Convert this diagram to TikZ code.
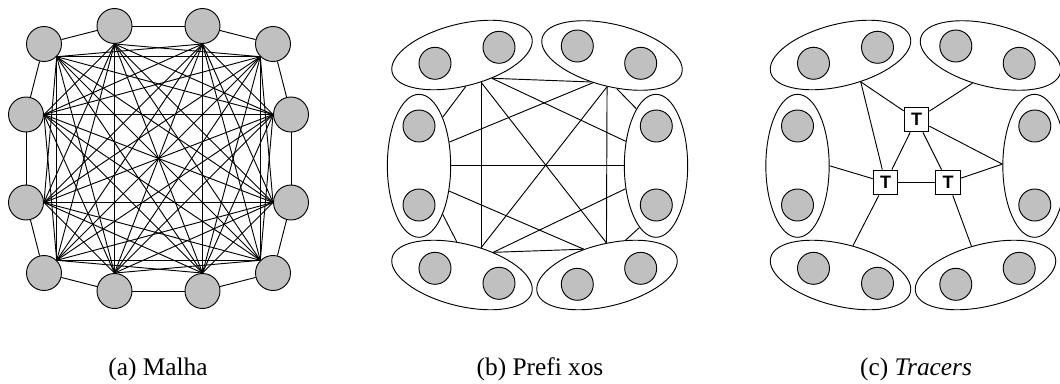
\documentclass[tikz,border=0pt]{standalone}
\usepackage{fontspec}
\setmainfont{Liberation Serif}
\setsansfont{Liberation Sans}
\usetikzlibrary{shapes.geometric}
\definecolor{dotgray}{RGB}{192,192,192}
\pgfdeclarelayer{bg}
\pgfsetlayers{bg,main}

% one set of six two-member clusters; #1 = name prefix
\newcommand{\drawclusters}[1]{%
  \node[grp, rotate=14]  (#1TL) at (462,55)    {};
  \node[grp, rotate=-14] (#1TR) at (612,55.5)  {};
  \node[vgrp]            (#1L)  at (419,165.8) {};
  \node[vgrp]            (#1R)  at (656,165.8) {};
  \node[grp, rotate=-14] (#1BL) at (462,275)   {};
  \node[grp, rotate=14]  (#1BR) at (607,275)   {};
  \node[dot] (#1TLa) at (435,63.3)  {};
  \node[dot] (#1TLb) at (499,47.3)  {};
  \node[dot] (#1TRa) at (577.3,46)  {};
  \node[dot] (#1TRb) at (640.7,63.3){};
  \node[dot] (#1La)  at (419,126)   {};
  \node[dot] (#1Lb)  at (419,205)   {};
  \node[dot] (#1Ra)  at (656.3,126) {};
  \node[dot] (#1Rb)  at (656.3,205) {};
  \node[dot] (#1BLa) at (435,268.3) {};
  \node[dot] (#1BLb) at (499,283.3) {};
  \node[dot] (#1BRa) at (577.3,284.3){};
  \node[dot] (#1BRb) at (640.7,268.3){};
}

\begin{document}
\begin{tikzpicture}[x=0.75pt,y=-0.75pt,
  edge/.style={line width=0.7pt},
  bigdot/.style={circle,draw,line width=0.7pt,fill=dotgray,inner sep=0pt,minimum size=26.25pt},
  dot/.style={circle,draw,line width=0.7pt,fill=dotgray,inner sep=0pt,minimum size=24pt},
  grp/.style={ellipse,draw,line width=0.7pt,fill=white,inner sep=0pt,minimum width=108pt,minimum height=46.5pt},
  vgrp/.style={ellipse,draw,line width=0.7pt,fill=white,inner sep=0pt,minimum width=47.5pt,minimum height=107.25pt},
  tracer/.style={rectangle,draw,line width=0.8pt,fill=white,inner sep=0pt,minimum size=18.5pt,
    font=\sffamily\bfseries\fontsize{13.5}{13.5}\selectfont},
  lbl/.style={anchor=base,font=\fontsize{19}{22}\selectfont}]

\useasboundingbox (0,0) rectangle (1060,383);
\clip (0,0) rectangle (1060,383);

% ---------- (a) full mesh of twelve nodes ----------
\foreach \n/\x/\y/\a in {
   1/44/44/south east, 2/114.5/26/south, 3/202.5/26/south, 4/273/44/south west,
   5/291/114.5/west, 6/291/202.5/west, 7/273/273/north west, 8/202.5/291/north,
   9/114.5/291/north, 10/44/273/north east, 11/26/202.5/east, 12/26/114.5/east}{
  \node[bigdot] (n\n) at (\x,\y) {};
  \coordinate (p\n) at (n\n.\a);
}
\begin{pgfonlayer}{bg}
\foreach \i in {1,...,11}{
  \pgfmathtruncatemacro{\s}{\i+1}
  \foreach \j in {\s,...,12}{
    \pgfmathtruncatemacro{\d}{\j-\i}
    \ifnum\d=1 \draw[edge] (n\i) -- (n\j);
    \else\ifnum\d=11 \draw[edge] (n\i) -- (n\j);
    \else \draw[edge] (p\i) -- (p\j);
    \fi\fi
  }
}
\end{pgfonlayer}

% ---------- (b) clusters fully interconnected ----------
\drawclusters{b}
\begin{pgfonlayer}{bg}
\draw[edge] (bTL.-52) -- (bTR.-115);
\draw[edge] (bTL.-52) -- (bR.141);
\draw[edge] (bTL.-69) -- (bBL.69);
\draw[edge] (bTL.-69) -- (bBR.77);
\draw[edge] (bTL.-97) -- (bL.64);
\draw[edge] (bTR.-111) -- (bL.38);
\draw[edge] (bTR.-85) -- (bBR.77);
\draw[edge] (bTR.-85) -- (bBL.69);
\draw[edge] (bTR.-68) -- (bR.109);
\draw[edge] (bL.0) -- (bR.180);
\draw[edge] (bL.-40) -- (bBR.118);
\draw[edge] (bL.-64) -- (bBL.113);
\draw[edge] (bR.-143) -- (bBL.50);
\draw[edge] (bR.-105) -- (bBR.48);
\draw[edge] (bBL.50) -- (bBR.118);
\end{pgfonlayer}

% ---------- (c) clusters joined through tracers ----------
\begin{scope}[xshift=283.875pt]
  \drawclusters{c}
\end{scope}
\node[tracer] (t1) at (916.5,119.5) {T};
\node[tracer] (t2) at (885.5,182.5) {T};
\node[tracer] (t3) at (948,182.5)   {T};
\begin{pgfonlayer}{bg}
\draw[edge] (cTL.-67) -- (t1);
\draw[edge] (cTL.-67) -- (t2);
\draw[edge] (cTR.-109) -- (t1);
\draw[edge] (t1) -- (cR.177);
\draw[edge] (t3) -- (cR.177);
\draw[edge] (t1) -- (t2);
\draw[edge] (t1) -- (t3);
\draw[edge] (t2) -- (t3);
\draw[edge] (cL.0) -- (t2);
\draw[edge] (t2) -- (cBL.81);
\draw[edge] (t3) -- (cBR.102);
\end{pgfonlayer}

% ---------- captions ----------
\node[lbl] (capa) at (158,375) {(a) Malha};
\node[lbl] (capb) at (540,375) {(b) Prefi xos};
\node[lbl] (capc) at (916,375) {(c) \textit{Tracers}};
\end{tikzpicture}
\end{document}
